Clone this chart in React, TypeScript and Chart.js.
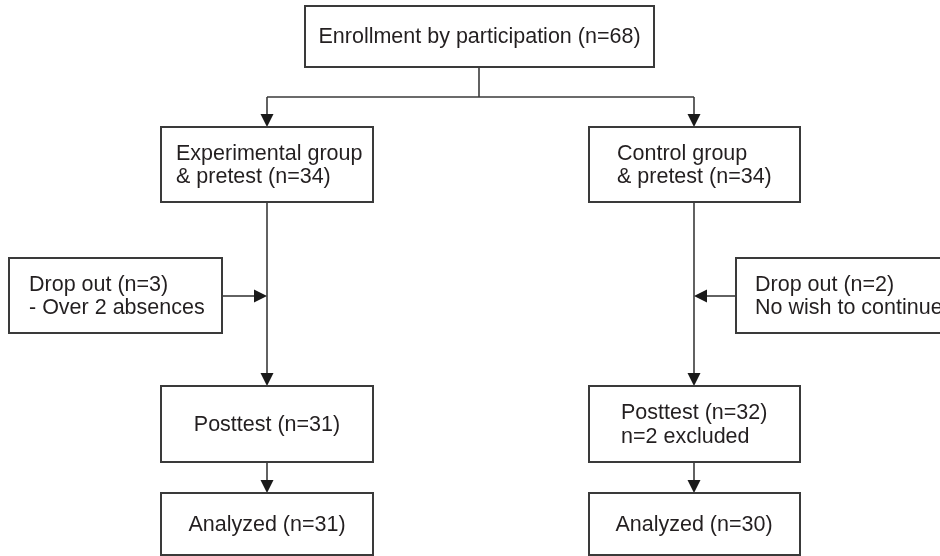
import React, { useEffect, useRef } from "react";
import { Chart, registerables } from "chart.js";

Chart.register(...registerables);

// ---- Flowchart data (layout units on a 940 x 556 grid) ----
const nodeLabels: string[][] = [
  ["Enrollment by participation (n=68)"],
  ["Experimental group", "& pretest (n=34)"],
  ["Control group", "& pretest (n=34)"],
  ["Drop out (n=3)", "- Over 2 absences"],
  ["Drop out (n=2)", "No wish to continue"],
  ["Posttest (n=31)"],
  ["Posttest (n=32)", "n=2 excluded"],
  ["Analyzed (n=31)"],
  ["Analyzed (n=30)"],
];
const nodeLeft = [305, 161, 589, 9, 736, 161, 589, 161, 589];
const nodeTop = [6, 127, 127, 258, 258, 386, 386, 493, 493];
const nodeRight = [654, 373, 800, 222, 990, 373, 800, 373, 800];
const nodeBottom = [67, 202, 202, 333, 333, 462, 462, 555, 555];
const nodeAlign: ("center" | "left")[] = ["center", "left", "left", "left", "left", "center", "left", "center", "center"];
const nodeTextX = [479.5, 176, 617, 29, 755, 267, 621, 267, 694];

// connector segments: [x1, y1, x2, y2, hasArrow]
const linkX1 = [479, 267, 267, 694, 267, 694, 222, 736, 267, 694];
const linkY1 = [67, 97, 97, 97, 202, 202, 296, 296, 462, 462];
const linkX2 = [479, 694, 267, 694, 267, 694, 267, 694, 267, 694];
const linkY2 = [97, 97, 127, 127, 386, 386, 296, 296, 493, 493];
const linkArrow = [false, false, true, true, true, true, true, true, true, true];

const LINE = "#3a3a3a";
const TEXT = "#231f20";
const FONT = '21.5px "Liberation Sans", Arial, Helvetica, sans-serif';

const flowPlugin = {
  id: "flow",
  afterDatasetsDraw(chart: any) {
    const ctx = chart.ctx as CanvasRenderingContext2D;
    const xs = chart.scales.x;
    const ys = chart.scales.y;
    const px = (v: number) => xs.getPixelForValue(v);
    const py = (v: number) => ys.getPixelForValue(v);
    ctx.save();
    // connectors
    ctx.strokeStyle = LINE;
    ctx.fillStyle = "#1a1a1a";
    ctx.lineWidth = 1.6;
    for (let i = 0; i < linkX1.length; i++) {
      const x1 = px(linkX1[i]);
      const y1 = py(linkY1[i]);
      const x2 = px(linkX2[i]);
      const y2 = py(linkY2[i]);
      const ang = Math.atan2(y2 - y1, x2 - x1);
      const len = 13;
      const half = 6.5;
      const ex = linkArrow[i] ? x2 - Math.cos(ang) * len : x2;
      const ey = linkArrow[i] ? y2 - Math.sin(ang) * len : y2;
      ctx.beginPath();
      ctx.moveTo(x1, y1);
      ctx.lineTo(ex, ey);
      ctx.stroke();
      if (linkArrow[i]) {
        ctx.beginPath();
        ctx.moveTo(x2, y2);
        ctx.lineTo(ex - Math.sin(ang) * half, ey + Math.cos(ang) * half);
        ctx.lineTo(ex + Math.sin(ang) * half, ey - Math.cos(ang) * half);
        ctx.closePath();
        ctx.fill();
      }
    }
    // boxes
    ctx.lineWidth = 2;
    ctx.strokeStyle = LINE;
    for (let i = 0; i < nodeLabels.length; i++) {
      const l = px(nodeLeft[i]);
      const t = py(nodeTop[i]);
      const r = px(nodeRight[i]);
      const b = py(nodeBottom[i]);
      ctx.fillStyle = "#ffffff";
      ctx.fillRect(l, t, r - l, b - t);
      ctx.strokeRect(l, t, r - l, b - t);
      ctx.fillStyle = TEXT;
      ctx.font = FONT;
      ctx.textAlign = nodeAlign[i];
      ctx.textBaseline = "middle";
      const lines = nodeLabels[i];
      const lh = 23.5;
      const cy = (t + b) / 2;
      lines.forEach((s, k) => {
        const y = cy + (k - (lines.length - 1) / 2) * lh;
        ctx.fillText(s, px(nodeTextX[i]), y + 1);
      });
    }
    ctx.restore();
  },
};

export default function App() {
  const ref = useRef<HTMLCanvasElement | null>(null);
  useEffect(() => {
    document.body.style.margin = "0";
    document.body.style.background = "#ffffff";
    if (!ref.current) return;
    const chart = new Chart(ref.current, {
      type: "scatter",
      data: {
        datasets: [
          {
            data: nodeLeft.map((v, i) => ({ x: (v + nodeRight[i]) / 2, y: (nodeTop[i] + nodeBottom[i]) / 2 })),
            pointRadius: 0,
            showLine: false,
          },
        ],
      },
      options: {
        animation: false,
        responsive: false,
        devicePixelRatio: 1,
        layout: { padding: 0 },
        plugins: { legend: { display: false }, tooltip: { enabled: false }, title: { display: false } },
        scales: {
          x: { type: "linear", min: 0, max: 940, display: false },
          y: { type: "linear", min: 0, max: 556, reverse: true, display: false },
        },
      },
      plugins: [flowPlugin],
    });
    return () => chart.destroy();
  }, []);
  return (
    <div style={{ width: 940, height: 556, background: "#fff" }}>
      <canvas ref={ref} width={940} height={556} style={{ display: "block" }} />
    </div>
  );
}
